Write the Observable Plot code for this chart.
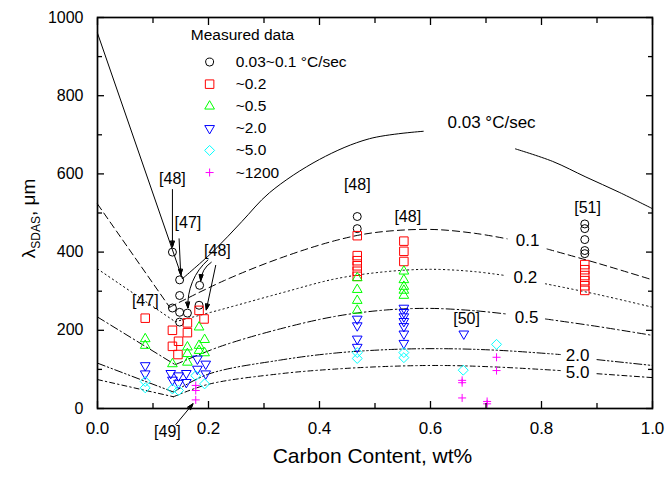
<!DOCTYPE html>
<html>
<head>
<meta charset="utf-8">
<script src="https://cdn.jsdelivr.net/npm/d3@7"></script>
<script src="https://cdn.jsdelivr.net/npm/@observablehq/plot@0.6"></script>
<style>
html,body{margin:0;padding:0;background:#fff;}
</style>
</head>
<body>
<div id="chart"></div>
<script>
const FONT = "'Liberation Sans', Arial, Helvetica, sans-serif";

// ---- axes
const xTicksMajor = [0, 0.2, 0.4, 0.6, 0.8, 1.0];
const xTicksMinor = [0.1, 0.3, 0.5, 0.7, 0.9];
const yTicksMajor = [0, 200, 400, 600, 800, 1000];
const yTicksMinor = [100, 300, 500, 700, 900];
const xTitle = "Carbon Content, wt%";
const yTitleMain = "λ", yTitleSub = "SDAS", yTitleTail = ", μm";

// ---- measured data (cooling-rate groups)
const legendTitle = "Measured data";
const seriesNames = ["0.03~0.1 °C/sec", "~0.2", "~0.5", "~2.0", "~5.0", "~1200"];
const seriesColors = ["#000000", "#ff0000", "#00ff00", "#0000ff", "#00ffff", "#ff00ff"];
const seriesSymbols = ["circle", "square", "triangle", "triangle", "diamond2", "plus"];
const seriesRotate = [0, 0, 0, 180, 0, 0];
const seriesR = [4, 4.8, 3.6, 3.6, 4.5, 2.7];

const circX = [0.135,0.148,0.148,0.135,0.148,0.162,0.148,0.184,0.183,0.468,0.468,0.878,0.878,0.878,0.878,0.878];
const circY = [400,329,289,257,246,244,221,315,264,491,460,472,460,432,404,396];

const sqX = [0.086,0.135,0.162,0.146,0.162,0.135,0.145,0.183,0.192,0.468,0.468,0.468,0.468,0.468,0.468,0.552,0.552,0.552,0.878,0.878,0.878,0.878,0.878,0.878];
const sqY = [231,200,219,172,194,159,138,251,229,442,391,378,365,351,338,428,402,376,368,355,340,327,314,302];

const upX = [0.086,0.086,0.135,0.162,0.162,0.162,0.183,0.183,0.183,0.193,0.193,0.468,0.468,0.468,0.468,0.552,0.552,0.552,0.552,0.552];
const upY = [178,161,114,157,140,118,208,161,148,176,142,334,304,276,251,351,329,312,302,289];

const downX = [0.086,0.086,0.132,0.135,0.146,0.146,0.160,0.160,0.180,0.180,0.195,0.195,0.468,0.468,0.468,0.468,0.552,0.552,0.552,0.552,0.552,0.552,0.552,0.660];
const downY = [110,89,90,73,84,65,90,67,127,101,114,89,229,212,178,157,257,246,235,223,210,191,167,191];

const diaX = [0.086,0.086,0.135,0.146,0.177,0.193,0.468,0.468,0.552,0.552,0.659,0.719];
const diaY = [69,53,50,46,84,63,143,128,143,130,98,164];

const plusX = [0.177,0.177,0.177,0.657,0.657,0.657,0.702,0.702,0.719,0.719];
const plusY = [59,46,22,72,66,27,18,12,131,97];

const seriesX = [circX, sqX, upX, downX, diaX, plusX];
const seriesY = [circY, sqY, upY, downY, diaY, plusY];

// ---- fitted curves (null = gap left for the label)
const fit003X = [0, 0.153, 0.21, 0.26, 0.31, 0.40, 0.49, 0.587, 0.67, 0.753, 0.82, 0.88, 0.94, 1.0];
const fit003Y = [960, 332, 404, 478, 552, 637, 690, 709, null, 664, 632, 592, 553, 511];
const fit01X = [0, 0.13, 0.228, 0.33, 0.43, 0.5, 0.6, 0.68, 0.738, 0.77, 0.81, 0.9, 1.0];
const fit01Y = [523, 259, 327, 385, 430, 450, 458, 448, 434, null, 408, 372, 329];
const fit02X = [0, 0.14, 0.22, 0.33, 0.43, 0.52, 0.6, 0.68, 0.735, 0.77, 0.807, 0.9, 1.0];
const fit02Y = [357, 222, 252, 295, 332, 350, 356, 350, 340, null, 319, 292, 259];
const fit05X = [0, 0.14, 0.22, 0.33, 0.43, 0.52, 0.6, 0.68, 0.735, 0.77, 0.807, 0.9, 1.0];
const fit05Y = [234, 112, 158, 204, 236, 252, 256, 250, 242, null, 229, 210, 187];
const fit20X = [0, 0.137, 0.2, 0.33, 0.43, 0.53, 0.62, 0.72, 0.834, 0.867, 0.9, 1.0];
const fit20Y = [116, 42, 88, 124, 142, 151, 153, 149, 138, null, 125, 110];
const fit50X = [0, 0.137, 0.2, 0.33, 0.43, 0.53, 0.62, 0.72, 0.834, 0.867, 0.9, 1.0];
const fit50Y = [74, 30, 62, 89, 101, 108, 110, 106, 97, null, 89, 79];

const fitNames = ["0.03", "0.1", "0.2", "0.5", "2.0", "5.0"];
const fitXs = [fit003X, fit01X, fit02X, fit05X, fit20X, fit50X];
const fitYs = [fit003Y, fit01Y, fit02Y, fit05Y, fit20Y, fit50Y];
const fitDash = [null, "7,4", "1.3,3.2", "8,3,1.5,3", "8,2.5,1.5,2.5,1.5,2.5", "5,3,1.5,3"];

const fitLabels = ["0.03 °C/sec", "0.1", "0.2", "0.5", "2.0", "5.0"];
const fitLabelX = [0.71, 0.775, 0.771, 0.773, 0.865, 0.865];
const fitLabelY = [731, 430, 335, 233, 136, 92];

// ---- reference annotations
const refText = ["[48]", "[47]", "[48]", "[47]", "[48]", "[48]", "[50]", "[51]", "[49]"];
const refX = [0.135, 0.163, 0.216, 0.086, 0.468, 0.559, 0.665, 0.883, 0.126];
const refY = [588, 475, 402, 275, 572, 490, 228, 514, -61];

const arrowX1 = [0.135, 0.147, 0.199, 0.205, 0.213, 0.141];
const arrowY1 = [560, 434, 380, 374, 366, -41];
const arrowX2 = [0.135, 0.150, 0.163, 0.186, 0.196, 0.172];
const arrowY2 = [413, 341, 257, 327, 252, 12];
const arrowBend = [0, 0, -26, -26, 0, 0];

// ---- build
const W = 665, H = 477, mL = 97, mR = 13, mT = 17, mB = 69;

const fitRows = [];
fitNames.forEach((n, k) => {
  const xs = fitXs[k], ys = fitYs[k];
  xs.forEach((x, i) => {
    if (i <= 1) fitRows.push({curve: n, part: "L", x, y: ys[i]});
    if (i >= 1) fitRows.push({curve: n, part: "R", x, y: ys[i]});
  });
});

const marks = [];

// fitted curves
fitNames.forEach((n, k) => {
  marks.push(Plot.line(fitRows.filter(d => d.curve === n), {
    x: "x", y: "y", z: "part", curve: "catmull-rom",
    stroke: "black", strokeWidth: 1, strokeDasharray: fitDash[k]
  }));
});
marks.push(Plot.text(fitLabels.map((t, i) => ({t, x: fitLabelX[i], y: fitLabelY[i]})), {
  x: "x", y: "y", text: "t", fontSize: 17, fill: "black", textAnchor: "middle"
}));

// measured points
seriesNames.forEach((name, k) => {
  const rows = seriesX[k].map((x, i) => ({x, y: seriesY[k][i]}));
  marks.push(Plot.dot(rows, {
    x: "x", y: "y", symbol: seriesSymbols[k], r: seriesR[k], rotate: seriesRotate[k],
    stroke: seriesColors[k], fill: "none", strokeWidth: 1
  }));
});

// references and arrows
marks.push(Plot.text(refText.map((t, i) => ({t, x: refX[i], y: refY[i]})), {
  x: "x", y: "y", text: "t", fontSize: 16, fill: "black", textAnchor: "middle"
}));
const arrowRows = arrowX1.map((x1, i) => ({x1, y1: arrowY1[i], x2: arrowX2[i], y2: arrowY2[i], bend: arrowBend[i]}));
[...new Set(arrowBend)].forEach(b => {
  marks.push(Plot.arrow(arrowRows.filter(d => d.bend === b), {
    x1: "x1", y1: "y1", x2: "x2", y2: "y2", bend: b,
    stroke: "black", strokeWidth: 1, headLength: 9, headAngle: 36, className: "refarrow"
  }));
});

// legend (inside the frame, top-left)
const legX = 0.202, legTextX = 0.249, legY0 = 886, legStep = 56.5, legTitleX = 0.168, legTitleY = 954;
marks.push(Plot.text([legendTitle], {x: legTitleX, y: legTitleY, text: d => d, textAnchor: "start", fontSize: 15.5, fill: "black"}));
seriesNames.forEach((name, k) => {
  marks.push(Plot.dot([name], {
    x: legX, y: legY0 - k * legStep, symbol: seriesSymbols[k], r: seriesR[k], rotate: seriesRotate[k],
    stroke: seriesColors[k], fill: "none", strokeWidth: 1
  }));
  marks.push(Plot.text([name], {
    x: legTextX, y: legY0 - k * legStep, text: d => d, textAnchor: "start", fontSize: 15.5, fill: "black"
  }));
});

// axes: tick labels, inward ticks on all four sides
marks.push(
  Plot.axisX({anchor: "bottom", ticks: xTicksMajor, tickSize: 0, tickPadding: 13, tickFormat: d3.format(".1f"), fontSize: 17, label: null}),
  Plot.axisY({anchor: "left", ticks: yTicksMajor, tickSize: 0, tickPadding: 14, tickFormat: d3.format("d"), fontSize: 16, label: null}),
  Plot.axisX({anchor: "bottom", ticks: xTicksMajor, tickSize: -7, strokeWidth: 1.3, fill: "none", label: null}),
  Plot.axisX({anchor: "bottom", ticks: xTicksMinor, tickSize: -5, strokeWidth: 1.3, fill: "none", label: null}),
  Plot.axisX({anchor: "top", ticks: xTicksMajor, tickSize: -7, strokeWidth: 1.3, fill: "none", label: null}),
  Plot.axisX({anchor: "top", ticks: xTicksMinor, tickSize: -5, strokeWidth: 1.3, fill: "none", label: null}),
  Plot.axisY({anchor: "left", ticks: yTicksMajor, tickSize: -7, strokeWidth: 1.3, fill: "none", label: null}),
  Plot.axisY({anchor: "left", ticks: yTicksMinor, tickSize: -5, strokeWidth: 1.3, fill: "none", label: null}),
  Plot.axisY({anchor: "right", ticks: yTicksMajor, tickSize: -7, strokeWidth: 1.3, fill: "none", label: null}),
  Plot.axisY({anchor: "right", ticks: yTicksMinor, tickSize: -5, strokeWidth: 1.3, fill: "none", label: null}),
  Plot.frame({stroke: "black", strokeWidth: 1.7})
);

const plot = Plot.plot({
  width: W, height: H,
  marginLeft: mL, marginRight: mR, marginTop: mT, marginBottom: mB,
  style: {fontFamily: FONT, fontSize: "16px", background: "white", color: "black", overflow: "visible"},
  x: {domain: [0, 1]},
  y: {domain: [0, 1000]},
  marks
});

const svg = d3.select(plot);

// filled arrowheads: split the head sub-path off each arrow path
svg.selectAll("g.refarrow path, g[aria-label=arrow] path").each(function () {
  const d = this.getAttribute("d");
  const idx = d.lastIndexOf("M");
  if (idx > 0) {
    d3.select(this.parentNode).append("path")
      .attr("d", d.slice(idx) + "Z")
      .attr("fill", "black").attr("stroke", "black").attr("stroke-width", 1);
  }
});

// x title
svg.append("text")
  .attr("x", mL + (W - mL - mR) / 2 - 2).attr("y", H - 14)
  .attr("text-anchor", "middle").attr("font-family", FONT).attr("font-size", 21).attr("fill", "black")
  .text(xTitle);

// y title with subscript
const yt = svg.append("text")
  .attr("transform", `translate(${mL - 62},${mT + (H - mT - mB) / 2 + 6}) rotate(-90)`)
  .attr("text-anchor", "middle").attr("font-family", FONT).attr("font-size", 19).attr("fill", "black");
yt.append("tspan").text(yTitleMain);
yt.append("tspan").attr("font-size", 12).attr("dy", 5).text(yTitleSub);
yt.append("tspan").attr("dy", -5).text(yTitleTail);

document.getElementById("chart").appendChild(plot);
</script>
</body>
</html>
